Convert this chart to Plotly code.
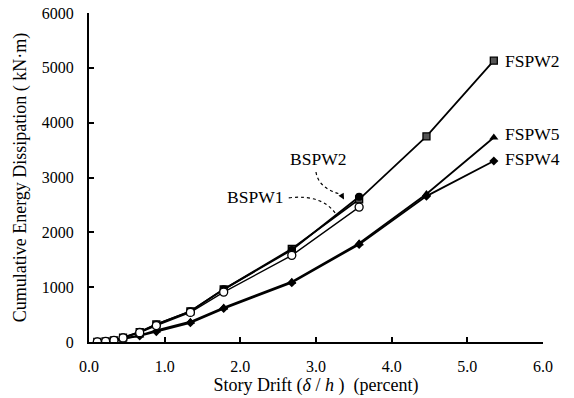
import plotly.graph_objects as go

drift = [0.11, 0.22, 0.33, 0.45, 0.67, 0.89, 1.34, 1.78, 2.68, 3.57, 4.46, 5.35]
fspw2 = [3, 10, 30, 80, 180, 320, 560, 960, 1700, 2600, 3750, 5130]
fspw4 = [2, 8, 20, 55, 110, 190, 350, 610, 1080, 1780, 2660, 3300]
fspw5 = [2, 8, 22, 60, 120, 210, 370, 630, 1100, 1800, 2700, 3730]
bspw1 = [3, 10, 28, 75, 170, 300, 540, 910, 1580, 2460]
bspw2 = [3, 10, 30, 80, 185, 320, 560, 960, 1680, 2650]

x_ticks = [0, 1, 2, 3, 4, 5, 6]
x_tick_text = ["0.0", "1.0", "2.0", "3.0", "4.0", "5.0", "6.0"]
y_ticks = [0, 1000, 2000, 3000, 4000, 5000, 6000]

FONT = "Liberation Serif"

fig = go.Figure()
line = dict(color="black", width=1.8)
fig.add_trace(go.Scatter(x=drift, y=fspw5, mode="lines+markers", line=line,
                         marker=dict(symbol="triangle-up", size=8, color="black")))
fig.add_trace(go.Scatter(x=drift, y=fspw4, mode="lines+markers", line=line,
                         marker=dict(symbol="diamond", size=7, color="black")))
fig.add_trace(go.Scatter(x=drift, y=fspw2, mode="lines+markers", line=line,
                         marker=dict(symbol="square", size=7, color="#555",
                                     line=dict(color="black", width=1.3))))
fig.add_trace(go.Scatter(x=drift[:len(bspw2)], y=bspw2, mode="lines+markers", line=line,
                         marker=dict(symbol="circle", size=8, color="black")))
fig.add_trace(go.Scatter(x=drift[:len(bspw1)], y=bspw1, mode="lines+markers",
                         line=dict(color="black", width=1.3),
                         marker=dict(symbol="circle", size=8, color="white",
                                     line=dict(color="black", width=1.3))))

ann = []
for txt, yv in [("FSPW2", fspw2[-1]), ("FSPW5", fspw5[-1] + 60), ("FSPW4", fspw4[-1] + 30)]:
    ann.append(dict(x=drift[-1], y=yv, xref="x", yref="y", text=txt, showarrow=False,
                    xanchor="left", xshift=9, font=dict(family=FONT, size=17.5, color="black")))
ann.append(dict(x=2.19, y=2640, xref="x", yref="y", text="BSPW1", showarrow=False,
                font=dict(family=FONT, size=17.5, color="black")))
ann.append(dict(x=3.03, y=3330, xref="x", yref="y", text="BSPW2", showarrow=False,
                font=dict(family=FONT, size=17.5, color="black")))
ann.append(dict(x=3.37, y=2600, xref="x", yref="y", ax=3.33, ay=2700, axref="x", ayref="y",
                text="", showarrow=True, arrowhead=2, arrowsize=1, arrowwidth=1.2,
                arrowcolor="black"))

shapes = [
    dict(type="path", xref="x", yref="y", path="M 2.64,2630 Q 3.10,2700 3.28,2300",
         line=dict(color="black", width=1.2, dash="dot")),
    dict(type="path", xref="x", yref="y", path="M 3.0,3100 Q 3.03,2800 3.34,2690",
         line=dict(color="black", width=1.2, dash="dot")),
]

fig.update_layout(
    width=574, height=398,
    margin=dict(l=89, r=31, t=13, b=56),
    paper_bgcolor="white", plot_bgcolor="white",
    showlegend=False,
    font=dict(family=FONT, size=16, color="black"),
    annotations=ann, shapes=shapes,
    xaxis=dict(range=[0, 6], tickvals=x_ticks, ticktext=x_tick_text,
               ticks="inside", ticklen=5, tickwidth=1.5, tickcolor="black",
               showline=True, linecolor="black", linewidth=2, showgrid=False,
               zeroline=False, ticklabelstandoff=9, tickfont=dict(size=16),
               automargin=False,
               title=dict(text="Story Drift (<i>δ</i> / <i>h</i> )  (percent)",
                          font=dict(family=FONT, size=18), standoff=0)),
    yaxis=dict(range=[0, 6000], tickvals=y_ticks,
               ticks="inside", ticklen=5, tickwidth=1.5, tickcolor="black",
               showline=True, linecolor="black", linewidth=2, showgrid=False,
               zeroline=False, ticklabelstandoff=10, tickfont=dict(size=16),
               automargin=False,
               title=dict(text="Cumulative Energy Dissipation ( kN·m)",
                          font=dict(family=FONT, size=18), standoff=10)),
)

fig.write_html("out.html")
